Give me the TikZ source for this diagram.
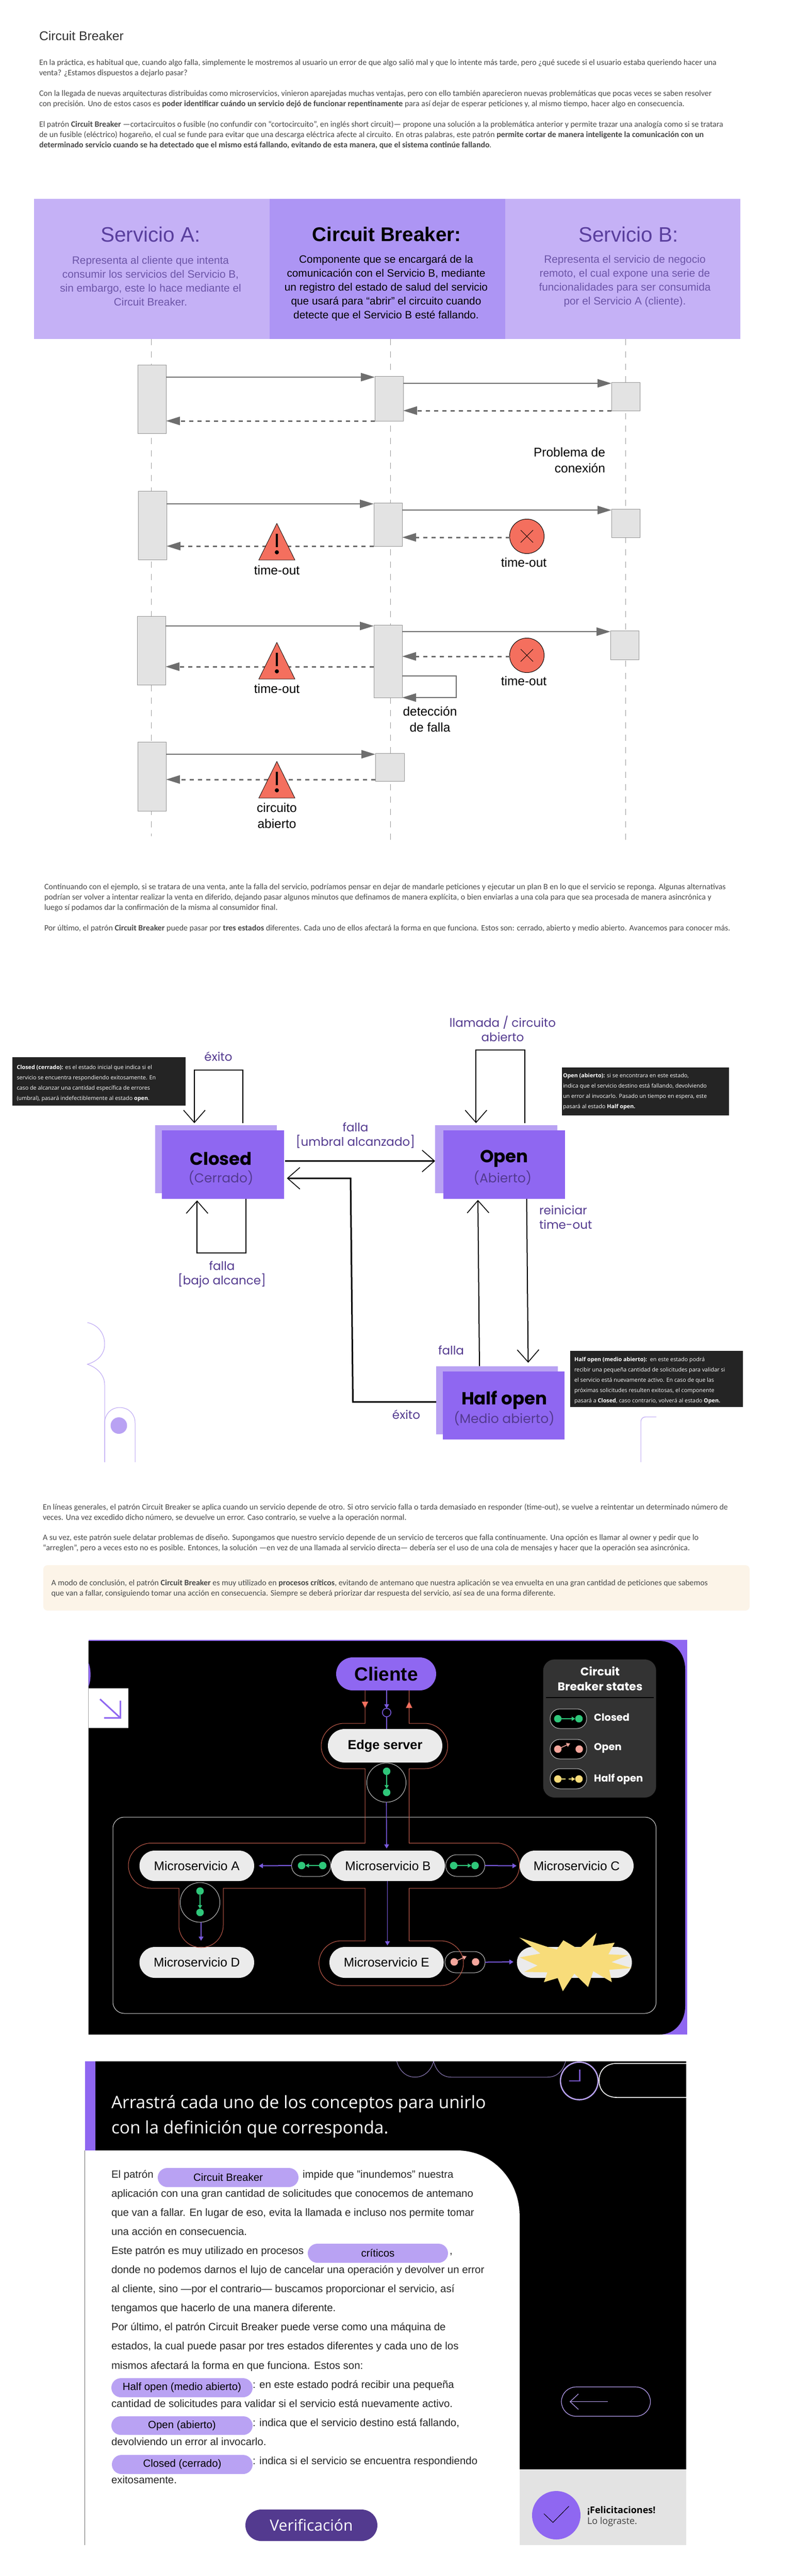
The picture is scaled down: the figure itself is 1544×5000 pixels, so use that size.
\documentclass[tikz,border=0pt]{standalone}
\usepackage{fontspec}
\setmainfont{Liberation Sans}
\newfontfamily\fuenteCuerpo{Carlito}
\newfontfamily\fuentePop{Poppins}
\newfontfamily\fuenteOpen{Open Sans}
\usetikzlibrary{arrows.meta, shapes.misc, calc}

\definecolor{lilaClaro}{HTML}{C5B1F6}
\definecolor{lilaMedio}{HTML}{AD95F4}
\definecolor{lilaFondo}{HTML}{B9A2F3}
\definecolor{morado}{HTML}{8F67F1}
\definecolor{moradoOsc}{HTML}{533A8F}
\definecolor{tituloLila}{HTML}{5A3F9E}
\definecolor{textoLila}{HTML}{6C55A8}
\definecolor{gris}{HTML}{6E6E6E}
\definecolor{rojoAlerta}{HTML}{F46F5E}
\definecolor{contorno}{HTML}{C8604F}
\definecolor{azulFlecha}{HTML}{7A5AE0}
\definecolor{verde}{HTML}{2FC77A}
\definecolor{rosa}{HTML}{F4A69C}
\definecolor{amarillo}{HTML}{F8DC7A}
\definecolor{crema}{HTML}{FCF4E8}

\newcommand{\tam}[2]{\fontsize{#1}{#2}\selectfont}
% style, x1, y1, x2, y2, name, text
\newcommand{\bloque}[7]{\node[#1, minimum width={(#4-#2)*1pt}, minimum height={(#5-#3)*1pt}] (#6) at ({(#2+#4)/2},{(#3+#5)/2}) {#7};}
\newcommand{\parCerrado}[5]{%
  \node[punto=verde] (#1a) at (#2,#3) {};
  \node[punto=verde] (#1b) at (#4,#5) {};
  \draw[verde, line width=1.5pt, -{Triangle[length=7pt,width=8pt]}] (#1a) -- (#1b);}
\newcommand{\parAbierto}[3]{%
  \node[punto=rosa] (#1a) at (#2,#3) {};
  \node[punto=rosa] (#1b) at (#2+41.5,#3) {};
  \draw[rosa, line width=1.5pt, -{Triangle[length=7pt,width=8pt]}] (#1a.center) -- +(24,-11);}

\tikzset{
  base/.style={inner sep=0pt, outer sep=0pt},
  parrafo/.style={base, anchor=west, align=left, text=black!72, font=\fuenteCuerpo\tam{15.9}{20}},
  banda/.style={base, fill=#1},
  tituloBanda/.style={base, font=\tam{40.5}{44}},
  textoBanda/.style={base, align=center, font=\tam{20.8}{27}},
  caja/.style={base, fill=black!11, draw=black!42, line width=1pt},
  vida/.style={draw=black!40, line width=1pt, dash pattern=on 12pt off 12pt},
  msg/.style={draw=gris, line width=2.4pt, -{Triangle[length=27pt,width=16pt]}},
  ret/.style={draw=gris, line width=3pt, dash pattern=on 8pt off 8pt, -{Triangle[length=27pt,width=16pt,fill=gris]}},
  etiqueta/.style={base, align=center, font=\tam{24.5}{31}},
  estado/.style={base, fill=morado, align=center},
  sombra/.style={base, fill=lilaFondo},
  nombreEst/.style={base, font=\fuentePop\bfseries\tam{34}{38}},
  subEst/.style={base, text=moradoOsc, font=\fuentePop\tam{25}{30}},
  lblEst/.style={base, align=center, text=moradoOsc, font=\fuentePop\tam{23}{28}},
  flecha/.style={line width=2pt, -{Straight Barb[length=24pt,width=42pt,line width=1.6pt]}},
  nota/.style={base, fill=black!86},
  notaTxt/.style={base, anchor=west, align=left, text=white, font=\fuenteOpen\tam{10.8}{20}},
  deco/.style={draw=lilaFondo, line width=1pt},
  pastilla/.style={base, rounded rectangle, fill=#1},
  microTxt/.style={font=\tam{24.5}{28}},
  capsula/.style={base, rounded rectangle, fill=black, draw=black!22, line width=1pt},
  punto/.style={base, circle, fill=#1, minimum size=14.5pt},
  azul/.style={draw=azulFlecha, line width=1.6pt, -{Triangle[length=8pt,width=9pt]}},
  rellenoQuiz/.style={base, rounded rectangle, fill=lilaFondo, font=\tam{20.4}{24}}
}

\begin{document}
\begin{tikzpicture}[x=1pt, y=-1pt]
  \useasboundingbox (0,0) rectangle (1544,5000);
  \fill[white] (0,0) rectangle (1544,5000);

  % intro
  \node[base, anchor=west, text=black!80, font=\tam{24.8}{28}] (tituloCB) at (76,70) {Circuit Breaker};
  \node[parrafo] (intro1) at (76,132) {En la práctica, es habitual que, cuando algo falla, simplemente le mostremos al usuario un error de que algo salió mal y que lo intente más tarde, pero ¿qué sucede si el usuario estaba queriendo hacer una\\ venta? ¿Estamos dispuestos a dejarlo pasar?};
  \node[parrafo] (intro2) at (76,192) {Con la llegada de nuevas arquitecturas distribuidas como microservicios, vinieron aparejadas muchas ventajas, pero con ello también aparecieron nuevas problemáticas que pocas veces se saben resolver\\ con precisión. Uno de estos casos es \textbf{poder identificar cuándo un servicio dejó de funcionar repentinamente} para así dejar de esperar peticiones y, al mismo tiempo, hacer algo en consecuencia.};
  \node[parrafo] (intro3) at (76,262) {El patrón \textbf{Circuit Breaker} —cortacircuitos o fusible (no confundir con “cortocircuito”, en inglés short circuit)— propone una solución a la problemática anterior y permite trazar una analogía como si se tratara\\ de un fusible (eléctrico) hogareño, el cual se funde para evitar que una descarga eléctrica afecte al circuito. En otras palabras, este patrón \textbf{permite cortar de manera inteligente la comunicación con un}\\ \textbf{determinado servicio cuando se ha detectado que el mismo está fallando, evitando de esta manera, que el sistema continúe fallando}.};

  % banda de servicios
  \bloque{banda=lilaClaro}{66}{386}{523}{658}{bandaA}{}
  \bloque{banda=lilaMedio}{523}{386}{980}{658}{bandaCB}{}
  \bloque{banda=lilaClaro}{980}{386}{1436}{658}{bandaB}{}
  \node[tituloBanda, text=tituloLila] (tituloA) at (292,455) {Servicio A:};
  \node[tituloBanda, text=black, font=\bfseries\tam{38.5}{44}] (tituloM) at (750,455) {Circuit Breaker:};
  \node[tituloBanda, text=tituloLila] (tituloB) at (1219,455) {Servicio B:};
  \node[textoBanda, text=textoLila] (textoA) at (292,545.5) {Representa al cliente que intenta\\ consumir los servicios del Servicio B,\\ sin embargo, este lo hace mediante el\\ Circuit Breaker.};
  \node[textoBanda, text=black] (textoM) at (749,559) {Componente que se encargará de la\\ comunicación con el Servicio B, mediante\\ un registro del estado de salud del servicio\\ que usará para “abrir” el circuito cuando\\ detecte que el Servicio B esté fallando.};
  \node[textoBanda, text=textoLila] (textoB) at (1212,545.5) {Representa el servicio de negocio\\ remoto, el cual expone una serie de\\ funcionalidades para ser consumida\\ por el Servicio A (cliente).};

  % secuencias
  \coordinate (finA) at (293.5,1623);
  \coordinate (finM) at (757.5,1633);
  \coordinate (finB) at (1213.5,1633);
  \draw[vida] (finA |- bandaA.south) -- (finA);
  \draw[vida] (finM |- bandaA.south) -- (finM);
  \draw[vida] (finB |- bandaA.south) -- (finB);

  \bloque{caja}{267}{708}{322}{841}{cajaA1}{}
  \bloque{caja}{727}{730}{782}{817}{cajaM1}{}
  \bloque{caja}{1186}{742}{1241}{797}{cajaB1}{}
  \bloque{caja}{268}{953}{323}{1086}{cajaA2}{}
  \bloque{caja}{725}{976}{780}{1060}{cajaM2}{}
  \bloque{caja}{1186}{988}{1241}{1043}{cajaB2}{}
  \bloque{caja}{266}{1196}{321}{1329}{cajaA3}{}
  \bloque{caja}{725}{1213}{780}{1354}{cajaM3}{}
  \bloque{caja}{1184}{1224}{1239}{1280}{cajaB3}{}
  \bloque{caja}{267}{1440}{322}{1574}{cajaA4}{}
  \bloque{caja}{728}{1462}{784}{1516}{cajaM4}{}

  \foreach \n in {1,2,3}{
    \draw[msg] ([yshift=-2pt]cajaA\n.east |- cajaM\n.north west) -- ([yshift=-2pt]cajaM\n.north west);
    \draw[msg] ([yshift=-2pt]cajaM\n.east |- cajaB\n.north west) -- ([yshift=-2pt]cajaB\n.north west);
  }
  \draw[msg] ([yshift=-2pt]cajaA4.east |- cajaM4.north west) -- ([yshift=-2pt]cajaM4.north west);

  \draw[ret] (cajaB1.south west) -- (cajaM1.east |- cajaB1.south west);
  \draw[ret] (cajaM1.south west) -- (cajaA1.east |- cajaM1.south west);
  \draw[ret] (725,1060) -- (cajaA2.east |- 0,1060);
  \draw[ret] (725,1294) -- (cajaA3.east |- 0,1294);
  \draw[ret] (cajaM4.west |- 0,1513) -- (cajaA4.east |- 0,1513);

  \foreach \n/\py in {2/1043,3/1274}{
    \node[base, circle, fill=rojoAlerta, draw=black, line width=1pt, minimum size=67pt] (error\n) at (1022,\py-2) {};
    \draw[line width=1pt] ([shift={(-12pt,12pt)}]error\n.center) -- ([shift={(12pt,-12pt)}]error\n.center);
    \draw[line width=1pt] ([shift={(-12pt,-12pt)}]error\n.center) -- ([shift={(12pt,12pt)}]error\n.center);
    \draw[ret] (error\n.west |- 0,\py) -- (cajaM\n.east |- 0,\py);
  }
  \foreach \ay in {1016,1247,1478}{
    \draw[fill=rojoAlerta, line width=.8pt] (537,\ay) -- (572,\ay+71) -- (502,\ay+71) -- cycle;
    \draw[line width=3.2pt] (537,\ay+20) -- (537,\ay+46);
    \fill (537,\ay+56) circle[radius=4pt];
  }
  \draw[msg, draw=gris] (cajaM3.east |- 0,1312) -| (885,1354) -- (cajaM3.south east);

  \node[etiqueta, anchor=east, align=right] (problema) at (1174,893) {Problema de\\ conexión};
  \node[etiqueta] (tiempo1) at (537,1106.5) {time-out};
  \node[etiqueta] (tiempo2) at (1016,1092) {time-out};
  \node[etiqueta] (tiempo3) at (537,1337) {time-out};
  \node[etiqueta] (tiempo4) at (1016,1322) {time-out};
  \node[etiqueta] (deteccion) at (834,1396.5) {detección\\ de falla};
  \node[etiqueta] (circuito) at (537,1583.5) {circuito\\ abierto};

  % estados
  \node[parrafo] (sigue1) at (86,1742) {Continuando con el ejemplo, si se tratara de una venta, ante la falla del servicio, podríamos pensar en dejar de mandarle peticiones y ejecutar un plan B en lo que el servicio se reponga. Algunas alternativas\\ podrían ser volver a intentar realizar la venta en diferido, dejando pasar algunos minutos que definamos de manera explícita, o bien enviarlas a una cola para que sea procesada de manera asincrónica y\\ luego sí podamos dar la confirmación de la misma al consumidor final.};
  \node[parrafo] (sigue2) at (86,1802) {Por último, el patrón \textbf{Circuit Breaker} puede pasar por \textbf{tres estados} diferentes. Cada uno de ellos afectará la forma en que funciona. Estos son: cerrado, abierto y medio abierto. Avancemos para conocer más.};

  \bloque{sombra}{301}{2184}{537}{2316}{closedB}{}
  \bloque{estado}{314}{2194}{550.5}{2327}{closedF}{}
  \bloque{sombra}{844}{2184}{1080.5}{2316}{openB}{}
  \bloque{estado}{860}{2194}{1096}{2327}{openF}{}
  \bloque{sombra}{846}{2651.5}{1081.5}{2784}{halfB}{}
  \bloque{estado}{859}{2662}{1095}{2794}{halfF}{}
  \node[nombreEst] (closedN) at (428.5,2249) {Closed};
  \node[subEst] (closedS) at (428.5,2286) {(Cerrado)};
  \node[nombreEst] (openN) at (978,2249) {Open};
  \node[subEst] (openS) at (975,2286) {(Abierto)};
  \node[nombreEst] (halfN) at (978,2718) {Half open};
  \node[subEst] (halfS) at (978,2753) {(Medio abierto)};

  \coordinate (altoClosed) at (424,2077);
  \coordinate (bajoClosed) at (430,2432);
  \coordinate (altoOpen) at (970,2038);
  \draw[flecha, shorten >=4pt] ([xshift=52pt,yshift=4pt]closedB.north) |- (altoClosed) -| ([xshift=-42pt]closedB.north);
  \draw[flecha, shorten >=3pt] ([xshift=45pt]closedF.south) |- (bajoClosed) -| ([xshift=-50pt]closedF.south);
  \draw[flecha, line width=3pt] ([xshift=2pt]closedF.east |- 0,2253.5) -- (openB.west |- 0,2253.5);
  \draw[flecha, line width=3pt] (halfB.west |- 0,2721) -- (684.5,2721) -- (680,2287) -- ([xshift=6pt]closedF.east |- 0,2287);
  \draw[flecha, shorten >=4pt] ([xshift=55.5pt,yshift=4pt]openB.north) |- (altoOpen) -| ([xshift=-39pt]openB.north);
  \draw[flecha] (930,2651.5) -- (927,2329);
  \draw[flecha] (1021.5,2327) -- (1024.5,2645);

  \node[lblEst] (lblLlamada) at (975,1996.5) {llamada / circuito\\ abierto};
  \node[lblEst] (lblExito1) at (423.5,2051) {éxito};
  \node[lblEst] (lblFalla1) at (689.5,2203.5) {falla\\ {[umbral alcanzado]}};
  \node[lblEst, anchor=west, align=left] (lblReiniciar) at (1046,2362.5) {reiniciar\\ time-out};
  \node[lblEst] (lblFalla2) at (430.5,2473.5) {falla\\ {[bajo alcance]}};
  \node[lblEst] (lblFalla3) at (875,2621) {falla};
  \node[lblEst] (lblExito2) at (788,2746) {éxito};

  \bloque{nota}{23.6}{2052}{359.5}{2146}{notaClosed}{}
  \node[notaTxt] (txtClosed) at (32.5,2103) {\textbf{Closed (cerrado):} es el estado inicial que indica si el\\ servicio se encuentra respondiendo exitosamente. En\\ caso de alcanzar una cantidad específica de errores\\ (umbral), pasará indefectiblemente al estado \textbf{open}.};
  \bloque{nota}{1090}{2072}{1413.5}{2165}{notaOpen}{}
  \node[notaTxt] (txtOpen) at (1092,2119) {\textbf{Open (abierto):} si se encontrara en este estado,\\ indica que el servicio destino está fallando, devolviendo\\ un error al invocarlo. Pasado un tiempo en espera, este\\ pasará al estado \textbf{Half open.}};
  \bloque{nota}{1106}{2622}{1441}{2731}{notaHalf}{}
  \node[notaTxt] (txtHalf) at (1114,2680) {\textbf{Half open (medio abierto):}\ \ en este estado podrá\\ recibir una pequeña cantidad de solicitudes para validar si\\ el servicio está nuevamente activo. En caso de que las\\ próximas solicitudes resulten exitosas, el componente\\ pasará a \textbf{Closed}, caso contrario, volverá al estado \textbf{Open.}};

  \draw[deco] (169.5,2567) .. controls (192,2572) and (203,2590) .. (203,2609) .. controls (203,2628) and (190,2642) .. (169.5,2648) .. controls (190,2655) and (203,2670) .. (203,2688) -- (203,2838);
  \draw[deco] (203,2838) -- (203,2762) .. controls (203,2745) and (215,2732) .. (232,2732) .. controls (250,2732) and (262,2745) .. (262,2762) -- (262,2838);
  \fill[lilaFondo] (230.5,2767) circle[radius=16pt];
  \draw[deco] (1273,2750) -- (1253,2750) .. controls (1247,2750) and (1243,2754) .. (1243,2760) -- (1243,2838);

  % cierre
  \node[parrafo] (cierre1) at (83,2936) {En líneas generales, el patrón Circuit Breaker se aplica cuando un servicio depende de otro. Si otro servicio falla o tarda demasiado en responder (time-out), se vuelve a reintentar un determinado número de\\ veces. Una vez excedido dicho número, se devuelve un error. Caso contrario, se vuelve a la operación normal.};
  \node[parrafo] (cierre2) at (83,2995) {A su vez, este patrón suele delatar problemas de diseño. Supongamos que nuestro servicio depende de un servicio de terceros que falla continuamente. Una opción es llamar al owner y pedir que lo\\ “arreglen”, pero a veces esto no es posible. Entonces, la solución —en vez de una llamada al servicio directa— debería ser el uso de una cola de mensajes y hacer que la operación sea asincrónica.};
  \fill[crema, rounded corners=8pt] (84,3038) rectangle (1454,3126);
  \node[parrafo] (cierre3) at (99.5,3083) {A modo de conclusión, el patrón \textbf{Circuit Breaker} es muy utilizado en \textbf{procesos críticos}, evitando de antemano que nuestra aplicación se vea envuelta en una gran cantidad de peticiones que sabemos\\ que van a fallar, consiguiendo tomar una acción en consecuencia. Siempre se deberá priorizar dar respuesta del servicio, así sea de una forma diferente.};

  % diagrama negro
  \fill[morado] (171.6,3183) rectangle (1333,3949);
  \fill[black] (171.6,3185) -- (1279,3185) .. controls (1309,3185) and (1329,3210) .. (1329,3240) -- (1329,3894) .. controls (1329,3924) and (1309,3949) .. (1279,3949) -- (171.6,3949) -- cycle;
  \fill[morado] (171.6,3227) .. controls (177,3240) and (177,3261) .. (171.6,3274) -- cycle;
  \fill[white] (171.6,3277) rectangle (249,3354);
  \draw[morado, line width=3pt] (194,3298) -- (233,3334);
  \draw[morado, line width=3pt] (233,3301) -- (233,3334) -- (202,3334);

  \draw[white!85!black, line width=1pt, rounded corners=22pt] (219,3527) rectangle (1272.7,3908);

  \bloque{pastilla=morado}{652}{3217}{846}{3281}{cliente}{\bfseries\tam{37}{40}Cliente}
  \bloque{pastilla=black!8}{636}{3356}{858}{3421}{edge}{\bfseries\tam{25.3}{28}Edge server}
  \bloque{pastilla=black!8, microTxt}{270.5}{3592}{493}{3651}{microA}{Microservicio A}
  \bloque{pastilla=black!8, microTxt}{642}{3592}{863}{3651}{microB}{Microservicio B}
  \bloque{pastilla=black!8, microTxt}{1008}{3592}{1229}{3651}{microC}{Microservicio C}
  \bloque{pastilla=black!8, microTxt}{270.5}{3779}{493}{3839}{microD}{Microservicio D}
  \bloque{pastilla=black!8, microTxt}{639}{3779}{860.6}{3839}{microE}{Microservicio E}
  \bloque{pastilla=black!8}{1002.7}{3779}{1225.7}{3839}{microF}{}

  \bloque{capsula}{729}{3422}{770}{3498}{capEdge}{}
  \bloque{capsula}{565.5}{3600}{641.5}{3642}{capA}{}
  \bloque{capsula}{864.5}{3600}{940.5}{3642}{capC}{}
  \bloque{capsula}{368}{3654}{408}{3731}{capD}{}
  \bloque{capsula}{863}{3788}{941}{3829}{capF}{}

  \draw[azul] (750,3281) -- (750,3316);
  \node[base, circle, draw=azulFlecha, line width=1.5pt, minimum size=16.5pt] (abierto) at (750,3324) {};
  \draw[azulFlecha, line width=1.6pt] (abierto) -- (abierto |- edge.north);
  \draw[azul] (capEdge) ++(0,38) -- (750,3588);
  \draw[azul, line width=2pt] (capA.west) -- (microA.east -| 502,0);
  \draw[azul, line width=2pt] (capC.east) -- (microC.west -| 1002,0);
  \draw[azul] (capD.south -| 390,0) -- (390,3767);
  \draw[azul] (751.5,3651) -- (751.5,3776);
  \draw[azul, line width=2pt] (capF.east) -- (996,3808);

  \draw[contorno, line width=1pt] (708,3281) -- (708,3345) -- (667,3345) .. controls (643,3345) and (623,3365) .. (623,3389) .. controls (623,3413) and (643,3433) .. (667,3433) -- (708,3433) -- (708,3577.5) -- (293,3577.5) .. controls (269,3577.5) and (249,3597) .. (249,3621) .. controls (249,3645) and (269,3665) .. (293,3665) -- (347,3665) -- (347,3737) .. controls (347,3761) and (366,3780) .. (390,3780) .. controls (414,3780) and (433,3761) .. (433,3737) -- (433,3665) -- (708,3665) -- (708,3767) -- (662,3767) .. controls (638,3767) and (618.6,3787) .. (618.6,3810.5) .. controls (618.6,3834) and (638,3854) .. (662,3854) -- (855,3854) .. controls (879,3854) and (899,3834) .. (899,3810.5) .. controls (899,3787) and (879,3767) .. (855,3767) -- (793.5,3767) -- (793.5,3665) -- (964,3665) .. controls (988,3665) and (1007.7,3645) .. (1007.7,3621) .. controls (1007.7,3597) and (988,3577.5) .. (964,3577.5) -- (793.5,3577.5) -- (793.5,3433) -- (824,3433) .. controls (848,3433) and (868.5,3413) .. (868.5,3389) .. controls (868.5,3365) and (848,3345) .. (824,3345) -- (793.5,3345) -- (793.5,3281);
  \draw[contorno, fill=rojoAlerta] (708,3315) -- (702,3303) -- (714,3303) -- cycle;
  \draw[contorno, fill=rojoAlerta] (793.5,3303) -- (787.5,3315) -- (799.5,3315) -- cycle;

  \parCerrado{bordeP}{750}{3438}{750}{3479}
  \parCerrado{izqP}{626}{3621}{585}{3621}
  \parCerrado{derP}{880}{3621}{921.5}{3621}
  \parCerrado{abajoP}{388}{3670.5}{388}{3712}
  \parAbierto{fallaP}{881}{3808}

  \fill[amarillo] (1007.3,3760.7) -- (1063.3,3779.3) -- (1080,3784) -- (1092.7,3766) -- (1116.7,3780) -- (1126.7,3779.3) -- (1157.3,3751.7) -- (1150,3776.7) -- (1192.3,3770.7) -- (1180,3793.3) -- (1218.3,3795) -- (1186,3808.3) -- (1225.7,3820) -- (1181.7,3823.3) -- (1186.7,3847.3) -- (1150.7,3826) -- (1140.7,3856.7) -- (1114,3830.7) -- (1091.7,3865) -- (1081.7,3839.3) -- (1055,3847.3) -- (1061.7,3828.3) -- (1016.7,3827.3) -- (1042.7,3815) -- (1008.3,3799.3) -- (1048.3,3791.7) -- cycle;

  % leyenda
  \fill[black!80, rounded corners=22pt] (1053.6,3221) rectangle (1272.7,3489);
  \node[base, align=center, text=white, font=\fuentePop\bfseries\tam{22}{29}] (leyenda) at (1164,3258.5) {Circuit\\ Breaker states};
  \draw[black, line width=2pt] (1059,3295) -- (1268,3295);
  \bloque{capsula}{1067}{3317}{1138}{3355}{capL1}{}
  \bloque{capsula}{1067}{3376}{1138}{3414}{capL2}{}
  \bloque{capsula}{1067}{3433}{1138}{3472}{capL3}{}
  \parCerrado{leyP}{1082}{3336}{1123}{3336}
  \parAbierto{leyQ}{1082}{3395}
  \node[punto=amarillo] (leyRa) at (1082,3453) {};
  \node[punto=amarillo] (leyRb) at (1123,3453) {};
  \draw[amarillo, line width=1.5pt] (leyRa) -- +(15,0);
  \draw[amarillo, line width=1.5pt, -{Triangle[length=7pt,width=8pt]}] (1103,3453) -- (leyRb);
  \node[base, anchor=west, text=white, font=\fuentePop\bfseries\tam{19.5}{24}] (leyCerrado) at (1152,3333) {Closed};
  \node[base, anchor=west, text=white, font=\fuentePop\bfseries\tam{19.5}{24}] (leyAbierto) at (1152,3393) {Open};
  \node[base, anchor=west, text=white, font=\fuentePop\bfseries\tam{19.5}{24}] (leyMedio) at (1152,3453) {Half open};

  % actividad
  \fill[black] (164.5,4001) rectangle (1331,4793);
  \fill[morado] (164.5,4001) rectangle (185,4174);
  \fill[white] (164.5,4174) -- (887,4174) .. controls (955,4174) and (1007.8,4232) .. (1007.8,4300) -- (1007.8,4940) -- (164.5,4940) -- cycle;
  \draw[black!55, line width=1pt] (164.5,4174) -- (164.5,4940);
  \fill[black!11] (1007.8,4793) rectangle (1331,4940);

  \draw[lilaFondo!80!black, line width=1pt] (769.6,4001) .. controls (775,4020) and (788,4031.7) .. (805,4031.7) .. controls (822,4031.7) and (836,4020) .. (841,4001);
  \draw[lilaFondo!80!black, line width=1pt] (841,4001) .. controls (846,4020) and (858,4031.7) .. (875,4031.7) -- (1062,4031.7) .. controls (1080,4031.7) and (1092,4020) .. (1097,4001);
  \node[base, circle, draw=lilaFondo, line width=2.5pt, minimum size=73pt] (reloj) at (1123.6,4039) {};
  \draw[morado!80!black, line width=2.5pt] (1124.7,4017) -- (1124.7,4039) -- (1104.4,4039);
  \draw[white, line width=1.6pt] (1331,4005) -- (1196,4005) .. controls (1176,4005) and (1162,4018) .. (1162,4038) .. controls (1162,4058) and (1176,4071) .. (1196,4071) -- (1331,4071);

  \node[base, anchor=west, align=left, text=white, font=\fuenteOpen\tam{33.4}{49}] (consigna) at (216,4108.5) {Arrastrá cada uno de los conceptos para unirlo\\ con la definición que corresponda.};

  \node[base, anchor=north west, align=left, text=black!85, font=\tam{20.4}{37.1}] (texto) at (216,4212) {\makebox[371pt][l]{El patrón}impide que "inundemos" nuestra\\ aplicación con una gran cantidad de solicitudes que conocemos de antemano\\ que van a fallar. En lugar de eso, evita la llamada e incluso nos permite tomar\\ una acción en consecuencia.\\ \makebox[656pt][l]{Este patrón es muy utilizado en procesos},\\ donde no podemos darnos el lujo de cancelar una operación y devolver un error\\ al cliente, sino —por el contrario— buscamos proporcionar el servicio, así\\ tengamos que hacerlo de una manera diferente.\\ Por último, el patrón Circuit Breaker puede verse como una máquina de\\ estados, la cual puede pasar por tres estados diferentes y cada uno de los\\ mismos afectará la forma en que funciona. Estos son:\\ \makebox[274pt][l]{}: en este estado podrá recibir una pequeña\\ cantidad de solicitudes para validar si el servicio está nuevamente activo.\\ \makebox[274pt][l]{}: indica que el servicio destino está fallando,\\ devolviendo un error al invocarlo.\\ \makebox[274pt][l]{}: indica si el servicio se encuentra respondiendo\\ exitosamente.};

  \bloque{rellenoQuiz}{306}{4208}{579}{4245}{hueco1}{Circuit Breaker}
  \bloque{rellenoQuiz}{597}{4355}{869}{4392}{hueco2}{críticos}
  \bloque{rellenoQuiz}{216}{4616}{490}{4653}{hueco3}{Half open (medio abierto)}
  \bloque{rellenoQuiz}{216}{4690}{490}{4726}{hueco4}{Open (abierto)}
  \bloque{rellenoQuiz}{217}{4765}{490}{4802}{hueco5}{Closed (cerrado)}
  \bloque{pastilla=moradoOsc, text=white, font=\fuenteOpen\tam{30}{34}}{476}{4871}{732}{4932}{verificar}{Verificación}

  \bloque{base, rounded rectangle, draw=lilaFondo, line width=1.2pt}{1089}{4633}{1261.6}{4690}{volver}{}
  \draw[lilaFondo, line width=1.2pt, -{Straight Barb[length=16pt,width=30pt,line width=1.2pt]}] (1178.6,4661.6) -- (1105,4661.6);

  \node[base, circle, fill=morado, minimum size=94pt] (logro) at (1079,4882) {};
  \draw[line width=1pt] (1055,4879) -- (1072.6,4896) -- (1103.5,4864.5);
  \node[base, anchor=west, font=\fuenteOpen\tam{18}{22}] (felicita) at (1139,4873) {\textbf{¡Felicitaciones!}};
  \node[base, anchor=west, text=black!75, font=\fuenteOpen\tam{18}{22}] (logrado) at (1139,4895) {Lo lograste.};
\end{tikzpicture}
\end{document}
